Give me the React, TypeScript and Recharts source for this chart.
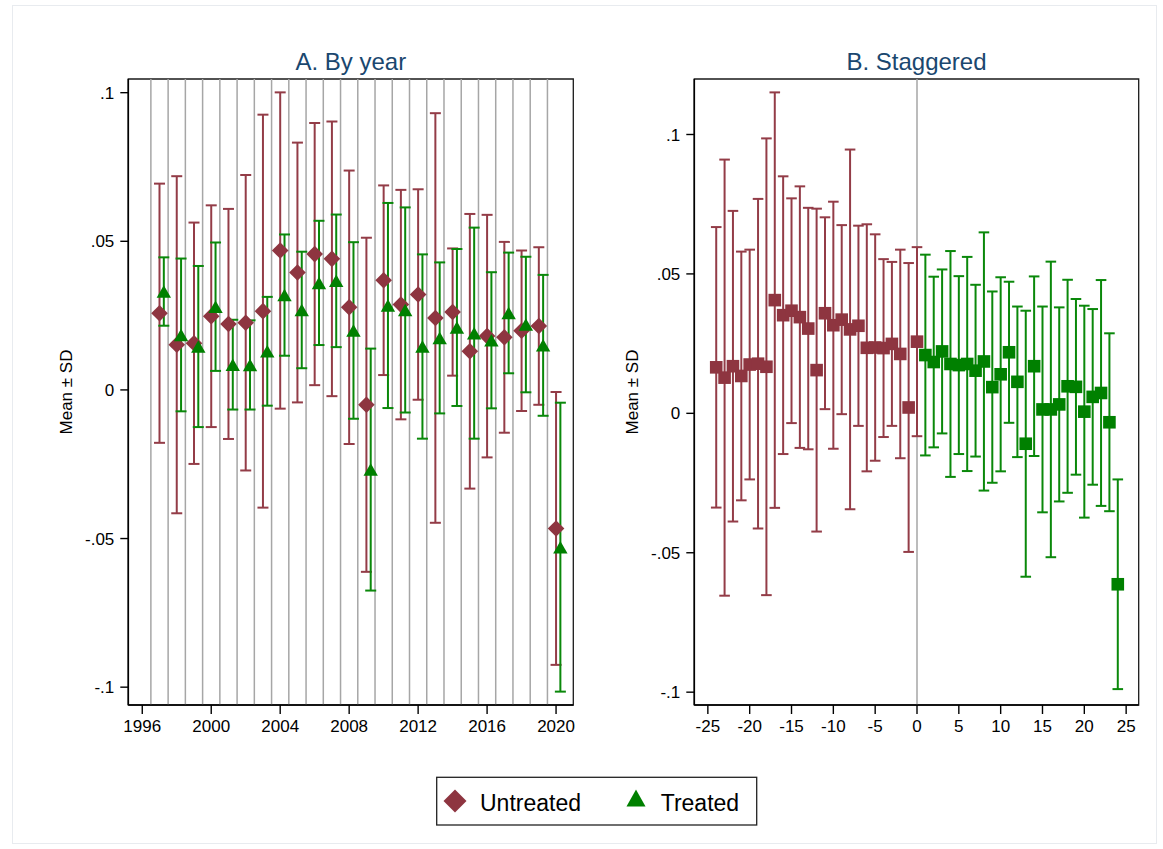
import React from 'react';
import { ScatterChart, Scatter, XAxis, YAxis, ErrorBar, ReferenceLine, ReferenceArea } from 'recharts';

// ---------- Panel A: by calendar year ----------
const years = [1997, 1998, 1999, 2000, 2001, 2002, 2003, 2004, 2005, 2006, 2007, 2008, 2009, 2010, 2011, 2012, 2013, 2014, 2015, 2016, 2017, 2018, 2019, 2020];
const untreatedMeanA = [0.0258, 0.0152, 0.0157, 0.0248, 0.0222, 0.0226, 0.0265, 0.0469, 0.0395, 0.0457, 0.0441, 0.0278, -0.005, 0.0369, 0.0287, 0.0321, 0.0242, 0.0262, 0.013, 0.0181, 0.0177, 0.0199, 0.0215, -0.0466];
const untreatedSdA = [0.0436, 0.0567, 0.0406, 0.0373, 0.0387, 0.0497, 0.0661, 0.0532, 0.0437, 0.0441, 0.0462, 0.046, 0.0562, 0.0319, 0.0386, 0.0354, 0.0689, 0.0214, 0.0462, 0.0408, 0.0321, 0.027, 0.0265, 0.0459];
const treatedMeanA = [0.0331, 0.0185, 0.0146, 0.028, 0.0085, 0.0084, 0.013, 0.0319, 0.0269, 0.036, 0.0367, 0.02, -0.0268, 0.0284, 0.0269, 0.0146, 0.0175, 0.021, 0.0191, 0.0167, 0.0259, 0.022, 0.015, -0.0529];
const treatedSdA = [0.0115, 0.0257, 0.0271, 0.0216, 0.0151, 0.015, 0.0183, 0.0204, 0.0196, 0.0209, 0.0223, 0.0297, 0.0407, 0.0345, 0.0345, 0.031, 0.0254, 0.0264, 0.0355, 0.0229, 0.0203, 0.0228, 0.0237, 0.0486];
const yearTicks = [1996, 2000, 2004, 2008, 2012, 2016, 2020];

// ---------- Panel B: staggered (event time) ----------
const eventUntreated = [-24, -23, -22, -21, -20, -19, -18, -17, -16, -15, -14, -13, -12, -11, -10, -9, -8, -7, -6, -5, -4, -3, -2, -1, 0];
const untreatedMeanB = [0.0165, 0.0128, 0.0169, 0.0134, 0.0175, 0.0178, 0.0167, 0.0406, 0.0352, 0.0368, 0.0345, 0.0304, 0.0155, 0.0359, 0.0316, 0.0336, 0.0301, 0.0314, 0.0235, 0.0236, 0.0234, 0.0249, 0.0213, 0.0021, 0.0257];
const untreatedSdB = [0.0503, 0.0782, 0.0557, 0.0446, 0.0412, 0.0591, 0.0819, 0.0745, 0.0498, 0.0403, 0.0469, 0.0433, 0.0579, 0.0344, 0.0443, 0.0339, 0.0645, 0.0359, 0.0443, 0.0406, 0.0319, 0.0294, 0.0374, 0.0518, 0.0339];
const eventTreated = [1, 2, 3, 4, 5, 6, 7, 8, 9, 10, 11, 12, 13, 14, 15, 16, 17, 18, 19, 20, 21, 22, 23, 24];
const treatedMeanB = [0.0209, 0.0184, 0.0222, 0.0177, 0.0173, 0.0177, 0.0153, 0.0186, 0.0094, 0.014, 0.0219, 0.0113, -0.0109, 0.0169, 0.0014, 0.0014, 0.0032, 0.0097, 0.0095, 0.0006, 0.0059, 0.0073, -0.0032, -0.0613];
const treatedSdB = [0.036, 0.0306, 0.0294, 0.0405, 0.0319, 0.0384, 0.0308, 0.0463, 0.0343, 0.0348, 0.0253, 0.027, 0.0477, 0.0322, 0.0369, 0.053, 0.0348, 0.0382, 0.0315, 0.038, 0.0315, 0.0405, 0.0319, 0.0376];
const eventTicks = [-25, -20, -15, -10, -5, 0, 5, 10, 15, 20, 25];

const yTicks = [-0.1, -0.05, 0, 0.05, 0.1];

// ---------- styling ----------
const FONT = '"Liberation Sans", Arial, Helvetica, sans-serif';
const RED = '#8e3540';
const RED_LINE = '#933c47';
const GREEN = '#008000';
const GREEN_LINE = '#0a880a';
const TITLE = '#1a476f';
const TREATED_SHIFT = 0.25;

const domainXA: [number, number] = [1995.19, 2021];
const domainYA: [number, number] = [-0.106, 0.1046];
const domainXB: [number, number] = [-26.62, 26.5];
const domainYB: [number, number] = [-0.1046, 0.1199];

const build = (xs: number[], m: number[], s: number[], shift = 0) =>
  xs.map((x, i) => ({ x: x + shift, y: m[i], e: s[i] }));

const dataUA = build(years, untreatedMeanA, untreatedSdA);
const dataTA = build(years, treatedMeanA, treatedSdA, TREATED_SHIFT);
const dataUB = build(eventUntreated, untreatedMeanB, untreatedSdB);
const dataTB = build(eventTreated, treatedMeanB, treatedSdB);

const fmtY = (v: number) => (v === 0 ? '0' : String(v).replace('0.', '.'));

const Empty = () => <g />;
const Diamond = (p: any) => {
  const r = 8.3;
  const { cx, cy } = p;
  return <path d={`M${cx},${cy - r}L${cx + r},${cy}L${cx},${cy + r}L${cx - r},${cy}Z`} fill={RED} />;
};
const Triangle = (p: any) => {
  const w = 7.2, h = 12.5;
  const { cx, cy } = p;
  return <path d={`M${cx},${cy - h / 2}L${cx + w},${cy + h / 2}L${cx - w},${cy + h / 2}Z`} fill={GREEN} />;
};
const SquareRed = (p: any) => {
  const s = 12.6;
  return <rect x={p.cx - s / 2} y={p.cy - s / 2} width={s} height={s} fill={RED} />;
};
const SquareGreen = (p: any) => {
  const s = 12.6;
  return <rect x={p.cx - s / 2} y={p.cy - s / 2} width={s} height={s} fill={GREEN} />;
};

const axisCommon = {
  axisLine: { stroke: '#000', strokeWidth: 1.6 },
  tickLine: { stroke: '#000', strokeWidth: 1.4 },
  tick: { fill: '#000', fontSize: 17, fontFamily: FONT },
};

export default function App() {
  return (
    <div style={{ position: 'absolute', left: 0, top: 0, width: 1163, height: 849, background: '#fff', fontFamily: FONT }}>
      {/* Panel A */}
      <div style={{ position: 'absolute', left: 0, top: 0 }}>
        <ScatterChart width={600} height={849} margin={{ top: 79, right: 26.7, bottom: 104, left: 68.3 }}>
          {years.map((y) => (
            <ReferenceLine key={y} x={y - 0.5} stroke="#a6a6a6" strokeWidth={1.5} />
          ))}
          <XAxis type="number" dataKey="x" domain={domainXA} ticks={yearTicks} allowDataOverflow interval={0} height={40} tickSize={9} tickMargin={6} {...axisCommon} />
          <YAxis type="number" dataKey="y" domain={domainYA} ticks={yTicks} allowDataOverflow interval={0} width={60} tickSize={8} tickMargin={6} tickFormatter={fmtY} {...axisCommon} />
          <ReferenceArea x1={domainXA[0]} x2={domainXA[1]} y1={domainYA[0]} y2={domainYA[1]} fill="none" stroke="#1a1a1a" strokeWidth={1.3} />
          <Scatter data={dataUA} shape={Empty} isAnimationActive={false}>
            <ErrorBar dataKey="e" direction="y" width={5.5} stroke={RED_LINE} strokeWidth={2} isAnimationActive={false} />
          </Scatter>
          <Scatter data={dataTA} shape={Empty} isAnimationActive={false}>
            <ErrorBar dataKey="e" direction="y" width={5.5} stroke={GREEN_LINE} strokeWidth={2} isAnimationActive={false} />
          </Scatter>
          <Scatter data={dataUA} shape={Diamond} isAnimationActive={false} />
          <Scatter data={dataTA} shape={Triangle} isAnimationActive={false} />
        </ScatterChart>
      </div>

      {/* Panel B */}
      <div style={{ position: 'absolute', left: 600, top: 0 }}>
        <ScatterChart width={563} height={849} margin={{ top: 79, right: 24.3, bottom: 104, left: 34.3 }}>
          <ReferenceLine x={0} stroke="#a6a6a6" strokeWidth={1.5} />
          <XAxis type="number" dataKey="x" domain={domainXB} ticks={eventTicks} allowDataOverflow interval={0} height={40} tickSize={9} tickMargin={6} {...axisCommon} />
          <YAxis type="number" dataKey="y" domain={domainYB} ticks={yTicks} allowDataOverflow interval={0} width={60} tickSize={8} tickMargin={6} tickFormatter={fmtY} {...axisCommon} />
          <ReferenceArea x1={domainXB[0]} x2={domainXB[1]} y1={domainYB[0]} y2={domainYB[1]} fill="none" stroke="#1a1a1a" strokeWidth={1.3} />
          <Scatter data={dataUB} shape={Empty} isAnimationActive={false}>
            <ErrorBar dataKey="e" direction="y" width={5.3} stroke={RED_LINE} strokeWidth={2} isAnimationActive={false} />
          </Scatter>
          <Scatter data={dataTB} shape={Empty} isAnimationActive={false}>
            <ErrorBar dataKey="e" direction="y" width={5.3} stroke={GREEN_LINE} strokeWidth={2} isAnimationActive={false} />
          </Scatter>
          <Scatter data={dataUB} shape={SquareRed} isAnimationActive={false} />
          <Scatter data={dataTB} shape={SquareGreen} isAnimationActive={false} />
        </ScatterChart>
      </div>

      {/* Titles, axis titles, legend, outer frame */}
      <svg width={1163} height={849} style={{ position: 'absolute', left: 0, top: 0, pointerEvents: 'none' }}>
        <rect x={12.5} y={5.5} width={1144} height={838} fill="none" stroke="#e8ebef" strokeWidth={1} />
        <text x={350.8} y={69.5} textAnchor="middle" fontSize={24} fill={TITLE} fontFamily={FONT}>A. By year</text>
        <text x={916.5} y={69.5} textAnchor="middle" fontSize={24} fill={TITLE} fontFamily={FONT}>B. Staggered</text>
        <text transform="translate(66,392) rotate(-90)" textAnchor="middle" dominantBaseline="central" fontSize={17} fill="#000" fontFamily={FONT}>Mean ± SD</text>
        <text transform="translate(632,392) rotate(-90)" textAnchor="middle" dominantBaseline="central" fontSize={17} fill="#000" fontFamily={FONT}>Mean ± SD</text>
        <rect x={436.7} y={777.3} width={320} height={47.7} fill="#fff" stroke="#222" strokeWidth={1.3} />
        <path d="M455,789.5L466.5,801L455,812.5L443.5,801Z" fill={RED} />
        <text x={480} y={810.7} fontSize={23} fill="#000" fontFamily={FONT}>Untreated</text>
        <path d="M636,789.5L645.5,806.5L626.5,806.5Z" fill={GREEN} />
        <text x={660.7} y={810.7} fontSize={23} fill="#000" fontFamily={FONT}>Treated</text>
      </svg>
    </div>
  );
}
